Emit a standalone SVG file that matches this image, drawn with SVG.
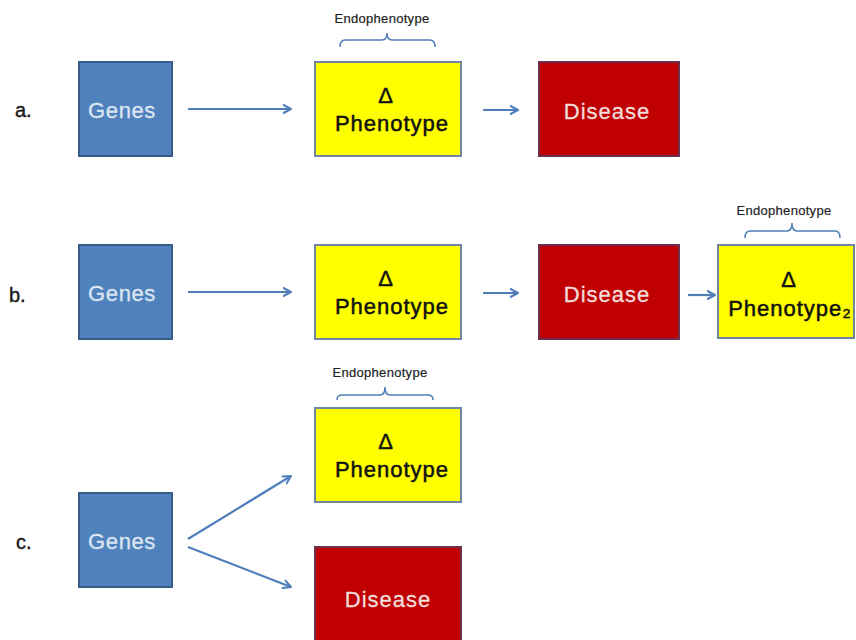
<svg xmlns="http://www.w3.org/2000/svg" width="856" height="640" viewBox="0 0 856 640">
  <defs>
    <marker id="head" viewBox="0 0 10 10" refX="8.5" refY="5" markerWidth="10" markerHeight="10" markerUnits="userSpaceOnUse" orient="auto">
      <path d="M1,1 L8.5,5 L1,9" fill="none" stroke="#4F7EBA" stroke-width="2" stroke-linecap="round" stroke-linejoin="round"/>
    </marker>
  </defs>
  <style>
    text { font-family: "Liberation Sans", Arial, sans-serif; }
    .genes { fill: #4F81BD; stroke: #385D8A; stroke-width: 2; }
    .pheno { fill: #FFFF00; stroke: #6F86A3; stroke-width: 2; }
    .dis { fill: #C00000; stroke: #6B3050; stroke-width: 2; }
    .gt { fill: #DCE6F2; stroke: #DCE6F2; stroke-width: 0.3; font-size: 22px; text-anchor: middle; letter-spacing: 0.6px; }
    .dt { fill: #F2DCDB; stroke: #F2DCDB; stroke-width: 0.3; font-size: 22px; text-anchor: middle; letter-spacing: 1px; }
    .pt { fill: #111111; stroke: #111111; stroke-width: 0.5; font-size: 22px; text-anchor: middle; letter-spacing: 1px; }
    .endo { fill: #222222; stroke: #222222; stroke-width: 0.2; font-size: 13px; text-anchor: middle; letter-spacing: 0.3px; }
    .bracket { fill: none; stroke: #4F7EBA; stroke-width: 1.5; }
    .lbl { fill: #1A1A1A; stroke: #1A1A1A; stroke-width: 0.4; font-size: 20px; }
    .arrow { fill: none; stroke: #4F7EBA; stroke-width: 2.2; marker-end: url(#head); }
  </style>
  <rect width="856" height="640" fill="#FFFFFF"/>

  <!-- row labels -->
  <g id="labels">
    <text class="lbl" x="15" y="117">a.</text>
    <text class="lbl" x="9" y="302">b.</text>
    <text class="lbl" x="16" y="549">c.</text>
  </g>

  <!-- row a -->
  <g id="a-genes">
    <rect class="genes" x="79" y="62" width="93" height="94"/>
    <text class="gt" x="122" y="118">Genes</text>
  </g>
  <g id="a-phenotype">
    <rect class="pheno" x="315" y="62" width="146" height="94"/>
    <text class="pt" x="386" y="103">Δ</text>
    <text class="pt" x="392" y="131">Phenotype</text>
  </g>
  <g id="a-endophenotype">
    <text class="endo" x="382" y="23">Endophenotype</text>
    <path class="bracket" d="M340,47 Q340,40 345,40 L382,40 Q387,40 387,33 Q387,40 392,40 L430,40 Q435,40 435,47"/>
  </g>
  <g id="a-disease">
    <rect class="dis" x="539" y="62" width="140" height="94"/>
    <text class="dt" x="607" y="119">Disease</text>
  </g>

  <!-- row b -->
  <g id="b-genes">
    <rect class="genes" x="79" y="245" width="93" height="94"/>
    <text class="gt" x="122" y="301">Genes</text>
  </g>
  <g id="b-phenotype">
    <rect class="pheno" x="315" y="245" width="146" height="94"/>
    <text class="pt" x="386" y="286">Δ</text>
    <text class="pt" x="392" y="314">Phenotype</text>
  </g>
  <g id="b-disease">
    <rect class="dis" x="539" y="245" width="140" height="94"/>
    <text class="dt" x="607" y="302">Disease</text>
  </g>
  <g id="b-phenotype2">
    <rect class="pheno" x="718" y="245" width="136" height="93"/>
    <text class="pt" x="789" y="287">Δ</text>
    <text class="pt" x="790" y="316" letter-spacing="0.5">Phenotype₂</text>
  </g>
  <g id="b-endophenotype">
    <text class="endo" x="784" y="215">Endophenotype</text>
    <path class="bracket" d="M745,238 Q745,231 750,231 L787,231 Q792,231 792,223 Q792,231 797,231 L835,231 Q840,231 840,238"/>
  </g>

  <!-- row c -->
  <g id="c-genes">
    <rect class="genes" x="79" y="493" width="93" height="94"/>
    <text class="gt" x="122" y="549">Genes</text>
  </g>
  <g id="c-phenotype">
    <rect class="pheno" x="315" y="408" width="146" height="94"/>
    <text class="pt" x="386" y="449">Δ</text>
    <text class="pt" x="392" y="477">Phenotype</text>
  </g>
  <g id="c-endophenotype">
    <text class="endo" x="380" y="377">Endophenotype</text>
    <path class="bracket" d="M337,400 Q337,395 342,395 L380,395 Q385,395 385,387 Q385,395 390,395 L428,395 Q433,395 433,400"/>
  </g>
  <g id="c-disease">
    <rect class="dis" x="315" y="547" width="146" height="96"/>
    <text class="dt" x="388" y="607">Disease</text>
  </g>

  <!-- connectors -->
  <g id="connectors">
    <line class="arrow" x1="188" y1="109" x2="291" y2="109"/>
    <line class="arrow" x1="483" y1="110" x2="518" y2="110"/>
    <line class="arrow" x1="188" y1="292" x2="291" y2="292"/>
    <line class="arrow" x1="483" y1="293" x2="518" y2="293"/>
    <line class="arrow" x1="688" y1="295" x2="715" y2="295"/>
    <line class="arrow" x1="188" y1="539" x2="291" y2="476"/>
    <line class="arrow" x1="188" y1="547" x2="291" y2="587"/>
  </g>
</svg>
